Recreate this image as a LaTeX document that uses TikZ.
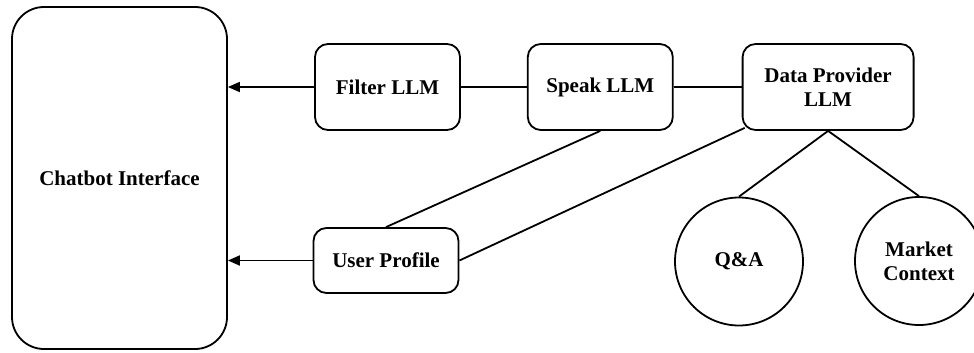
\documentclass[tikz,border=0pt]{standalone}
\usepackage{fontspec}
\setmainfont{Liberation Serif}
\usepackage{tikz}
\usetikzlibrary{shapes.geometric, arrows.meta, positioning}

\begin{document}
\begin{tikzpicture}[
  x = 0.5pt, y = -0.5pt,
  every node/.style = {font=\fontsize{10.5}{12}\selectfont\bfseries},
  interface/.style  = {rectangle, rounded corners=16pt, draw, line width=0.9pt,
                       minimum width=107.5pt, minimum height=171pt, align=center},
  llm/.style        = {rectangle, rounded corners=6.5pt, draw, line width=0.9pt,
                       minimum width=72.5pt, minimum height=43pt, align=center},
  source/.style     = {circle, draw, line width=0.9pt, minimum size=64pt,
                       inner sep=0pt, align=center},
  link/.style       = {line width=0.9pt},
  arrow/.style      = {-{Triangle[length=6pt, width=5pt]}, line width=0.9pt}
]
\clip (0,0) rectangle (974,353);

% --- Interface (left) ---
\node[interface] (chatbot) at (119.5,178) {Chatbot Interface};

% --- LLM chain (top row) ---
\node[llm] (filter) at (387.5,87)   {Filter LLM};
\node[llm, right=33pt of filter] (speak) {Speak LLM};
\node[llm, right=34pt of speak, minimum width=85.5pt] (data) {Data Provider\\LLM};

% --- Profile and sources (bottom row) ---
\node[llm, minimum height=32.5pt] (profile) at (386,260.5) {User Profile};
\node[source] (qa)     at (739,261.5) {Q\&A};
\node[source] (market) at (919,261)   {Market\\Context};

% --- Arrows ---
\draw[arrow] (filter.west)  -- (filter.west -| chatbot.east);
\draw[arrow] (profile.west) -- (profile.west -| chatbot.east);

% --- Links ---
\draw[link] (filter) -- (speak);
\draw[link] (speak)  -- (data);
\draw[link] (speak.south) -- (profile.north);
\draw[link] ([shift={(1.5pt,1.5pt)}]data.south west) -- (profile.east);
\draw[link] (data.south) -- (qa.north);
\draw[link] (data.south) -- (market.north);

\end{tikzpicture}
\end{document}
